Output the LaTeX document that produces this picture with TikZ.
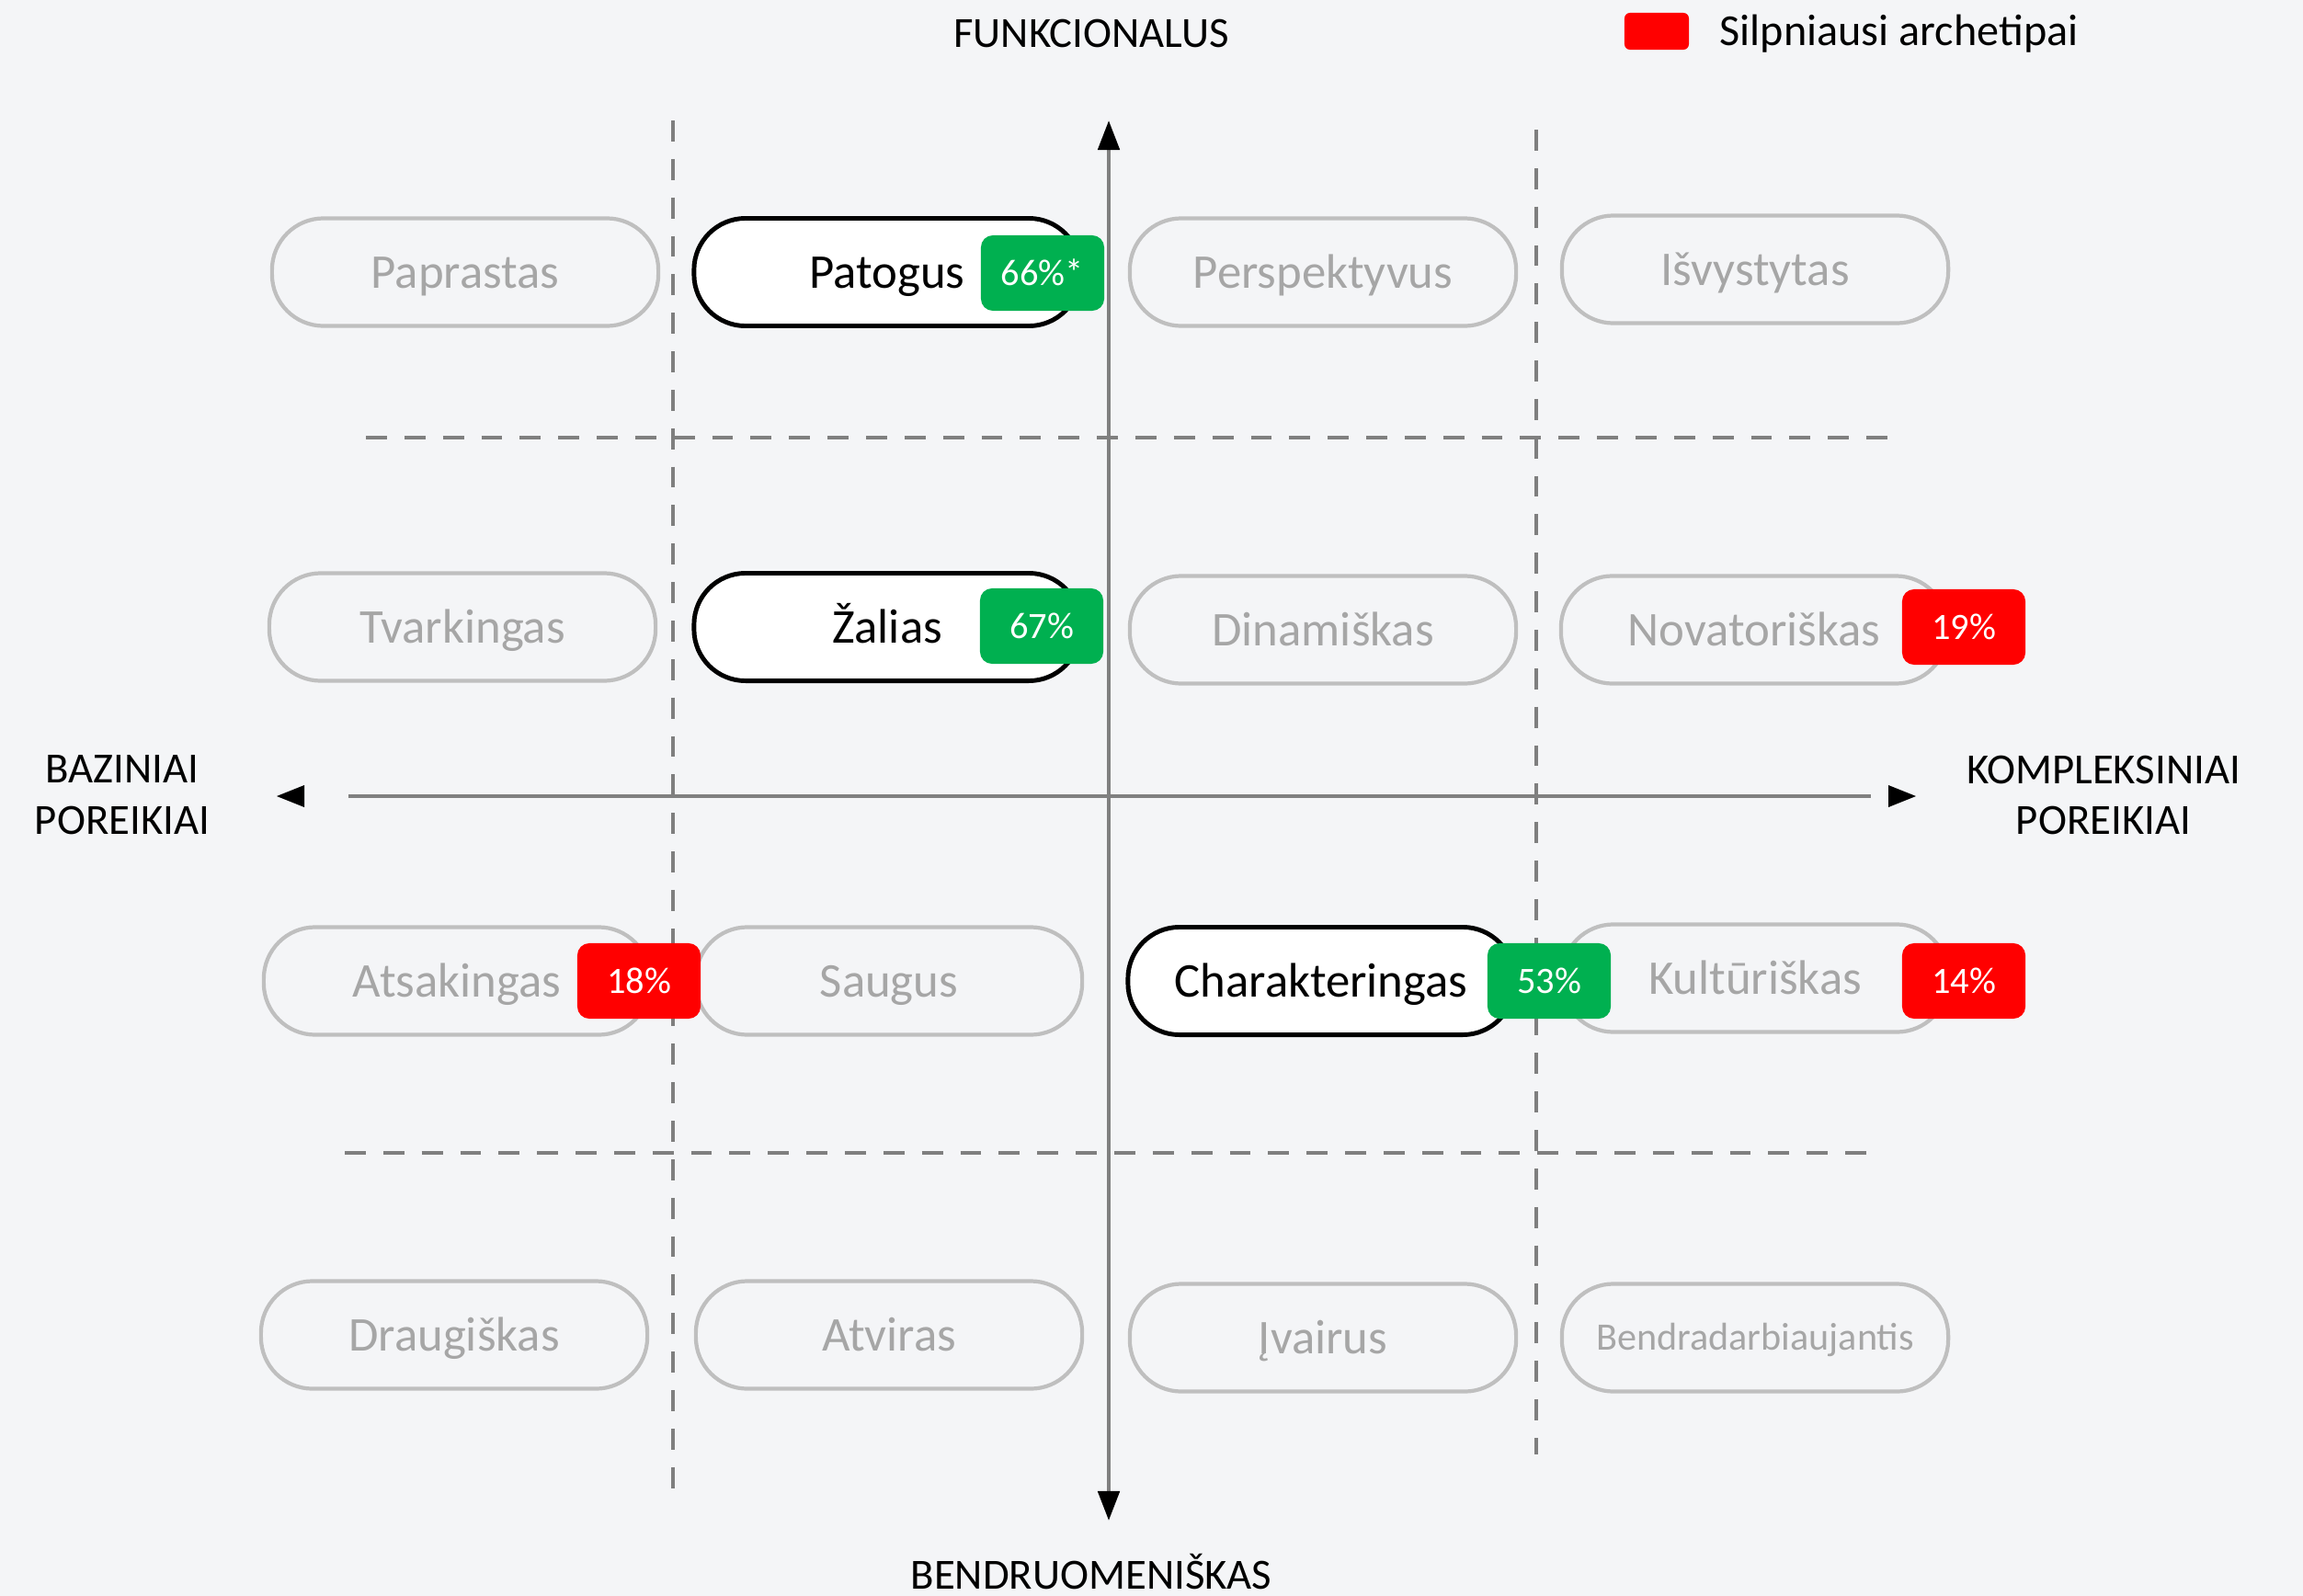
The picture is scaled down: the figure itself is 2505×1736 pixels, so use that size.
\documentclass[tikz,border=0pt]{standalone}
\usepackage{fontspec}
\setmainfont{Carlito}
\usetikzlibrary{arrows.meta}
\definecolor{bgcol}{HTML}{F4F5F7}
\definecolor{pillgray}{HTML}{BFBFBF}
\definecolor{txtgray}{HTML}{A6A6A6}
\definecolor{dashgray}{HTML}{7F7F7F}
\definecolor{axisgray}{HTML}{808080}
\definecolor{okgreen}{HTML}{00B050}
\definecolor{weakred}{HTML}{FF0000}
\begin{document}
\begin{tikzpicture}[x=0.01cm,y=-0.01cm,
        pill/.style={draw=pillgray, line width=1.2pt, fill=bgcol, text=txtgray, rounded corners=0.56cm, minimum width=4.2cm, minimum height=1.17cm, inner sep=0pt, text height=9.7pt, text depth=0pt, font=\fontsize{15}{18}\selectfont},
        chosen/.style={pill, draw=black, fill=white, text=black, line width=1.4pt},
        badge/.style={rounded corners=0.13cm, text=white, minimum width=1.34cm, minimum height=0.82cm, inner sep=0pt, text height=7.4pt, text depth=0pt, font=\fontsize{11.5}{14}\selectfont},
        grid line/.style={draw=dashgray, line width=1.2pt, dash pattern=on 6.5pt off 5.4pt},
        axis/.style={draw=axisgray, line width=1.4pt},
        axis label/.style={align=center, inner sep=0pt, font=\fontsize{13.3}{15.9}\selectfont}]
                \fill[bgcol] (0,0) rectangle (2505,1736);
                \draw[grid line] (732,131) -- (732,1637);
                \draw[grid line] (1671,141) -- (1671,1582);
                \draw[grid line] (398,476) -- (2055,476);
                \draw[grid line] (375,1254) -- (2034,1254);
                \coordinate (top) at (1206,131);
                \coordinate (bottom) at (1206,1654);
                \coordinate (left) at (379,866);
                \coordinate (right) at (2035,866);
                \draw[axis, {Triangle[length=0.32cm,width=0.23cm,color=black]}-{Triangle[length=0.32cm,width=0.23cm,color=black]}] (top) -- (bottom);
                \draw[axis] (left) -- (right);
                \fill (331,854) -- (301,866) -- (331,878) -- cycle;
                \fill (2054,854) -- (2084,866) -- (2054,878) -- cycle;
                \foreach \n/\x/\y/\t in {paprastas/506/296/Paprastas, tvarkingas/503/682/Tvarkingas, atsakingas/497/1067/Atsakingas, draugiskas/494/1452/Draugiškas, saugus/967/1067/Saugus, atviras/967/1452/Atviras, perspektyvus/1439/296/Perspektyvus, dinamiskas/1439/685/Dinamiškas, ivairus/1439/1455/Įvairus, isvystytas/1909/293/Išvystytas, novatoriskas/1908/685/Novatoriškas, kulturiskas/1909/1064/Kultūriškas}
                    \node[pill] (\n) at (\x,\y) {\t};
                \node[pill, text height=7.8pt, font=\fontsize{12}{14}\selectfont] (bendradarb) at (1909,1455) {Bendradarbiaujantis};
                \node[chosen] (patogus) at (965,296) {Patogus};
                \node[chosen] (zalias) at (965,682) {Žalias};
                \node[chosen] (charakter) at (1437,1067) {Charakteringas};
                \foreach \n/\x/\y/\c/\t in {patogusval/1134/297/okgreen/66\%*, zaliasval/1133/681/okgreen/67\%, charakterval/1685/1067/okgreen/53\%, novatorval/2136/682/weakred/19\%, kulturval/2136/1067/weakred/14\%, atsakval/695/1067/weakred/18\%}
                    \node[badge, fill=\c] (\n) at (\x,\y) {\t};
                \node[axis label, text height=8.6pt, text depth=0pt] (funkc) at (1187,36) {FUNKCIONALUS};
                \node[axis label, text height=8.6pt, text depth=0pt] (bendruom) at (1187,1713) {BENDRUOMENIŠKAS};
                \node[axis label] (bazin) at (133,865) {BAZINIAI\\POREIKIAI};
                \node[axis label] (kompl) at (2288,865) {KOMPLEKSINIAI\\POREIKIAI};
                \node[fill=weakred, rounded corners=0.06cm, minimum width=0.7cm, minimum height=0.4cm, inner sep=0pt] (legbox) at (1802,34) {};
                \node[anchor=west, inner sep=0pt, text height=8.8pt, text depth=0pt, font=\fontsize{13.7}{16}\selectfont] (legtext) at (1870,34) {Silpniausi archetipai};
    \end{tikzpicture}
\end{document}
